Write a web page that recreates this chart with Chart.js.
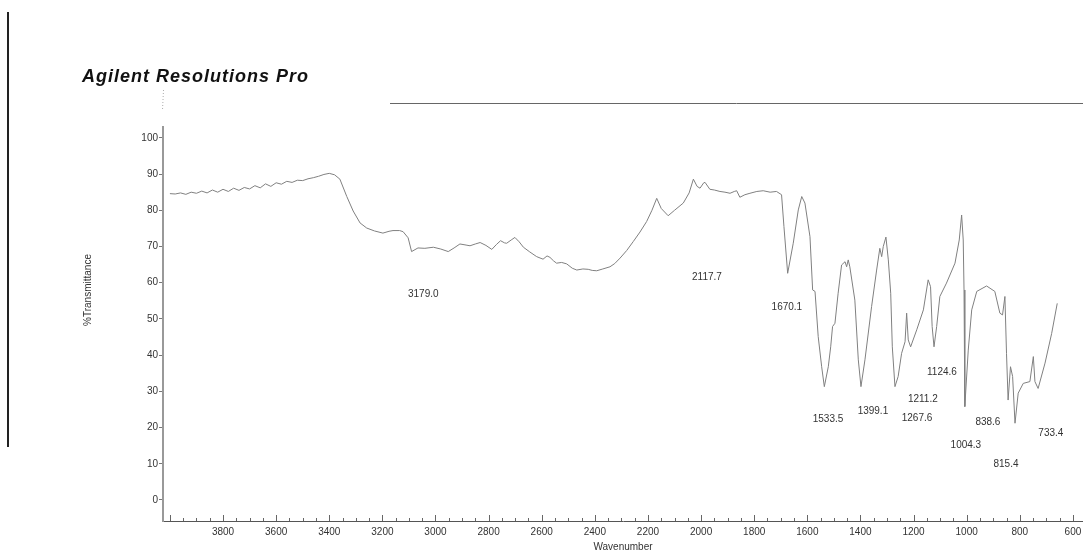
<!DOCTYPE html>
<html>
<head>
<meta charset="utf-8">
<script src="https://cdn.jsdelivr.net/npm/chart.js@4.4.1/dist/chart.umd.min.js"></script>
<style>
  html, body { margin: 0; padding: 0; background: #fff; overflow: hidden; }
  #wrap { position: relative; width: 1083px; height: 554px; }
</style>
</head>
<body>
<div id="wrap"><canvas id="c" width="1083" height="554"></canvas></div>
<script>
// ---- data ----
const titleText = 'Agilent Resolutions Pro';
const xTitle = 'Wavenumber';
const yTitle = '%Transmittance';

const xTickValues = [3800, 3600, 3400, 3200, 3000, 2800, 2600, 2400, 2200, 2000, 1800, 1600, 1400, 1200, 1000, 800, 600];
const yTickValues = [0, 10, 20, 30, 40, 50, 60, 70, 80, 90, 100];

const wavenumbers = [
  4000, 3980, 3960, 3940, 3920, 3900, 3880, 3860, 3840, 3820,
  3800, 3780, 3760, 3740, 3720, 3700, 3680, 3660, 3640, 3620,
  3600, 3580, 3560, 3540, 3520, 3500, 3480, 3460, 3440, 3420,
  3400, 3380, 3360, 3334, 3310, 3284, 3259, 3230, 3198, 3175,
  3160, 3135, 3122, 3103, 3090, 3066, 3040, 3008, 2980, 2952,
  2930, 2908, 2885, 2870, 2850, 2832, 2810, 2788, 2770, 2755,
  2740, 2732, 2715, 2701, 2685, 2669, 2645, 2619, 2595, 2580,
  2569, 2555, 2544, 2525, 2506, 2485, 2468, 2445, 2425, 2410,
  2393, 2370, 2343, 2325, 2305, 2280, 2255, 2230, 2205, 2185,
  2167, 2150, 2124, 2100, 2067, 2045, 2029, 2015, 2004, 1990,
  1985, 1967, 1950, 1929, 1910, 1891, 1875, 1866, 1854, 1835,
  1816, 1790, 1766, 1740, 1716, 1697, 1688, 1674, 1653, 1634,
  1621, 1609, 1590, 1580, 1571, 1559, 1546, 1536, 1521, 1512,
  1505, 1496, 1484, 1471, 1458, 1452, 1446, 1440, 1421, 1408,
  1398, 1383, 1358, 1339, 1327, 1320, 1314, 1304, 1295, 1286,
  1280, 1270, 1258, 1245, 1232, 1226, 1220, 1211, 1188, 1163,
  1145, 1136, 1130, 1123, 1113, 1101, 1076, 1044, 1028, 1019,
  1013, 1010, 1007, 994, 981, 962, 925, 894, 875, 865,
  856, 850, 844, 835, 827, 818, 806, 787, 762, 749,
  743, 731, 705, 680, 659
];
const transmittance = [
  84.6, 84.5, 84.8, 84.4, 85.0, 84.7, 85.3, 84.8, 85.6, 85.0,
  85.8, 85.2, 86.1, 85.5, 86.3, 85.9, 86.8, 86.2, 87.3, 86.6,
  87.6, 87.2, 88.0, 87.7, 88.3, 88.2, 88.7, 89.0, 89.4, 89.9,
  90.2, 89.8, 88.6, 83.8, 79.8, 76.5, 75.1, 74.3, 73.7, 74.2,
  74.4, 74.4, 74.1, 72.4, 68.6, 69.6, 69.5, 69.8, 69.3, 68.6,
  69.6, 70.7, 70.4, 70.2, 70.7, 71.1, 70.3, 69.2, 70.6, 71.6,
  71.0, 70.9, 71.8, 72.5, 71.3, 69.8, 68.5, 67.2, 66.5, 67.4,
  67.0, 66.0, 65.4, 65.6, 65.2, 64.0, 63.5, 63.8, 63.7, 63.4,
  63.3, 63.8, 64.4, 65.3, 66.8, 68.9, 71.4, 74.0, 76.9, 80.0,
  83.3, 80.5, 78.5, 80.0, 82.0, 84.8, 88.6, 86.6, 86.1, 87.6,
  87.7, 85.8, 85.6, 85.2, 85.0, 84.7, 85.2, 85.4, 83.6, 84.3,
  84.7, 85.2, 85.4, 85.0, 85.2, 84.3, 75.5, 62.6, 70.9, 80.1,
  83.8, 82.0, 72.7, 58.0, 57.6, 45.1, 36.8, 31.3, 36.8, 42.3,
  47.9, 48.8, 57.1, 64.9, 65.8, 64.4, 66.3, 64.4, 55.2, 38.7,
  31.3, 38.7, 53.4, 63.5, 69.5, 67.2, 70.0, 72.6, 66.3, 57.1,
  42.3, 31.3, 34.1, 40.5, 43.7, 51.6, 44.2, 42.3, 47.0, 52.5,
  60.8, 58.9, 47.9, 42.3, 47.9, 56.2, 59.9, 65.4, 71.8, 78.7,
  71.8, 58.0, 25.8, 41.4, 52.5, 57.6, 59.1, 57.6, 51.6, 51.1,
  56.2, 40.5, 27.6, 36.8, 34.1, 21.2, 29.5, 32.2, 32.7, 39.6,
  32.7, 30.8, 37.8, 46.0, 54.3
];

// peak annotations: text and the (wavenumber, %T) point where the text sits
const peakLabels = ['3179.0', '2117.7', '1670.1', '1533.5', '1399.1', '1267.6', '1211.2', '1124.6', '838.6', '1004.3', '815.4', '733.4'];
const peakLabelWn = [3046, 1978, 1677, 1522, 1353, 1187, 1165, 1093, 920, 1003, 852, 683];
const peakLabelT  = [56.8, 61.6, 53.3, 22.4, 24.6, 22.7, 27.9, 35.4, 21.5, 15.2, 9.9, 18.5];

// ---- chart ----
const FONT = '"Liberation Sans", Arial, Helvetica, sans-serif';
const points = wavenumbers.map((w, i) => ({ x: w, y: transmittance[i] }));

const decor = {
  id: 'decor',
  afterDraw(chart) {
    const { ctx } = chart;
    const x = chart.scales.x, y = chart.scales.y;
    ctx.save();
    // x-axis inward tick marks (major every 200, minor every 50)
    ctx.strokeStyle = '#666';
    ctx.lineWidth = 1;
    for (let v = 4000; v >= 600; v -= 50) {
      const px = Math.round(x.getPixelForValue(v)) + 0.5;
      const len = (v % 200 === 0) ? 6 : 3;
      ctx.beginPath();
      ctx.moveTo(px, x.top);
      ctx.lineTo(px, x.top - len);
      ctx.stroke();
    }
    // peak labels
    ctx.fillStyle = '#333';
    ctx.font = '10px ' + FONT;
    ctx.textAlign = 'center';
    ctx.textBaseline = 'middle';
    peakLabels.forEach((t, i) => {
      ctx.fillText(t, x.getPixelForValue(peakLabelWn[i]), y.getPixelForValue(peakLabelT[i]));
    });
    // y-axis title
    ctx.save();
    ctx.translate(88, 290);
    ctx.rotate(-Math.PI / 2);
    ctx.fillText(yTitle, 0, 0);
    ctx.restore();
    // header title
    ctx.fillStyle = '#111';
    ctx.font = 'italic bold 18px ' + FONT;
    ctx.textAlign = 'left';
    ctx.textBaseline = 'alphabetic';
    if ('letterSpacing' in ctx) ctx.letterSpacing = '1px';
    ctx.fillText(titleText, 82, 82);
    if ('letterSpacing' in ctx) ctx.letterSpacing = '0px';
    // page decorations: left border and header rule
    ctx.strokeStyle = '#222';
    ctx.lineWidth = 2;
    ctx.beginPath(); ctx.moveTo(8, 12); ctx.lineTo(8, 447); ctx.stroke();
    ctx.strokeStyle = '#666';
    ctx.lineWidth = 1;
    ctx.beginPath(); ctx.moveTo(390, 103.5); ctx.lineTo(1083, 103.5); ctx.stroke();
    ctx.setLineDash([1, 2]);
    ctx.strokeStyle = '#aaa';
    ctx.beginPath(); ctx.moveTo(163.5, 90); ctx.lineTo(162.5, 110); ctx.stroke();
    ctx.restore();
  }
};

new Chart(document.getElementById('c'), {
  type: 'line',
  data: {
    datasets: [{
      data: points,
      borderColor: '#808080',
      borderWidth: 1,
      pointRadius: 0,
      tension: 0,
      fill: false
    }]
  },
  options: {
    responsive: false,
    animation: false,
    devicePixelRatio: 1,
    layout: { padding: { top: 127, left: 0, right: 0, bottom: 0 } },
    plugins: { legend: { display: false }, tooltip: { enabled: false } },
    scales: {
      x: {
        type: 'linear',
        reverse: true,
        min: 562,
        max: 4026,
        afterBuildTicks(s) { s.ticks = xTickValues.map(v => ({ value: v })); },
        afterFit(s) { s.height = 33; s.paddingLeft = 0; s.paddingRight = 0; },
        grid: { display: false, drawTicks: false },
        border: { display: true, color: '#555', width: 1 },
        ticks: { color: '#333', font: { size: 10, family: FONT }, padding: 5, maxRotation: 0, autoSkip: false,
                 callback: v => String(v) },
        title: { display: true, text: xTitle, color: '#333', font: { size: 10, family: FONT }, padding: { top: 0, bottom: 1 } }
      },
      y: {
        min: -5.8,
        max: 103,
        afterBuildTicks(s) { s.ticks = yTickValues.map(v => ({ value: v })); },
        afterFit(s) { s.width = 163; },
        grid: { display: true, drawOnChartArea: false, drawTicks: true, tickLength: 4, color: '#777' },
        border: { display: true, color: '#999', width: 2 },
        ticks: { color: '#333', font: { size: 10, family: FONT }, padding: 1, callback: v => String(v) },
        title: { display: false }
      }
    }
  },
  plugins: [decor]
});
</script>
</body>
</html>
